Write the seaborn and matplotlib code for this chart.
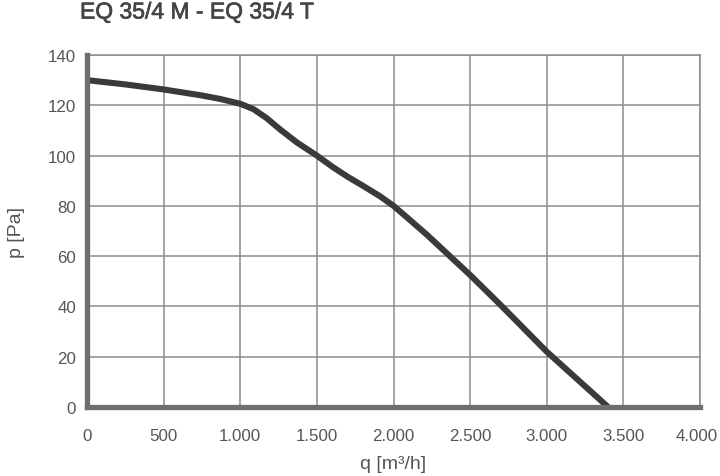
import matplotlib
matplotlib.use("Agg")
import matplotlib.pyplot as plt
import matplotlib.patheffects as pe
import matplotlib.transforms as mtransforms
import seaborn as sns
import pandas as pd
from matplotlib.ticker import FixedLocator, FixedFormatter

# Data
q_values = [0, 250, 500, 750, 870, 1000, 1085, 1170, 1260, 1370, 1500, 1600, 1700,
            1800, 1910, 2000, 2090, 2220, 2500, 2700, 3000, 3240, 3400]
p_values = [130, 128.3, 126.3, 123.9, 122.5, 120.6, 118.5, 115.0, 110.4, 105.2, 100, 95.6, 91.6,
            88.0, 83.9, 80.0, 75.3, 68.4, 52.5, 40.5, 22.0, 8.8, 0]
x_ticks = [0, 500, 1000, 1500, 2000, 2500, 3000, 3500, 4000]
x_tick_labels = ["0", "500", "1.000", "1.500", "2.000", "2.500", "3.000", "3.500", "4.000"]
y_ticks = [0, 20, 40, 60, 80, 100, 120, 140]
y_tick_labels = ["0", "20", "40", "60", "80", "100", "120", "140"]
title_text = "EQ 35/4 M - EQ 35/4 T"
x_label = "q [m³/h]"
y_label = "p [Pa]"

sns.set_theme(style="white")
plt.rcParams['font.family'] = ['Liberation Sans', 'DejaVu Sans']

df = pd.DataFrame({"q": q_values, "p": p_values})

fig = plt.figure(figsize=(7.2, 4.77), dpi=100)
ax = fig.add_axes([87 / 720, 1 - 408 / 477, (700 - 87) / 720, (408 - 56) / 477])

grid_color = "#8c8c8c"
text_color = "#555555"

sns.lineplot(data=df, x="q", y="p", ax=ax, color="#3a3a3a", linewidth=4.4,
             solid_capstyle="butt", solid_joinstyle="round", zorder=5)

ax.set_xlim(0, 4000)
ax.set_ylim(0, 140)
ax.xaxis.set_major_locator(FixedLocator(x_ticks))
ax.xaxis.set_major_formatter(FixedFormatter(x_tick_labels))
ax.yaxis.set_major_locator(FixedLocator(y_ticks))
ax.yaxis.set_major_formatter(FixedFormatter(y_tick_labels))

ax.grid(True, color=grid_color, linewidth=1.1)
ax.set_axisbelow(True)

for side in ["top", "right"]:
    ax.spines[side].set_color(grid_color)
    ax.spines[side].set_linewidth(1.1)
for side in ["left", "bottom"]:
    ax.spines[side].set_color("#6e6e6e")
    ax.spines[side].set_linewidth(3.8)
    ax.spines[side].set_zorder(6)
    ax.spines[side].set_capstyle("projecting")

ax.tick_params(axis="both", length=0, colors=text_color, labelsize=12.2)
ax.tick_params(axis="x", pad=15)
ax.tick_params(axis="y", pad=8)

# keep the last x tick label inside the figure (as in the reference)
last_label = ax.get_xticklabels()[-1]
last_label.set_transform(last_label.get_transform() +
                         mtransforms.ScaledTranslation(-3 / 100, 0, fig.dpi_scale_trans))

ax.set_xlabel(x_label, fontsize=14, color=text_color, labelpad=9)
ax.set_ylabel(y_label, fontsize=14, color=text_color, labelpad=16)

fig.text(80 / 720, 1 - 13 / 477, title_text, fontsize=16.5, color="#454545",
         ha="left", va="center",
         path_effects=[pe.withStroke(linewidth=0.5, foreground="#454545")])

fig.savefig("out.png", dpi=100)
